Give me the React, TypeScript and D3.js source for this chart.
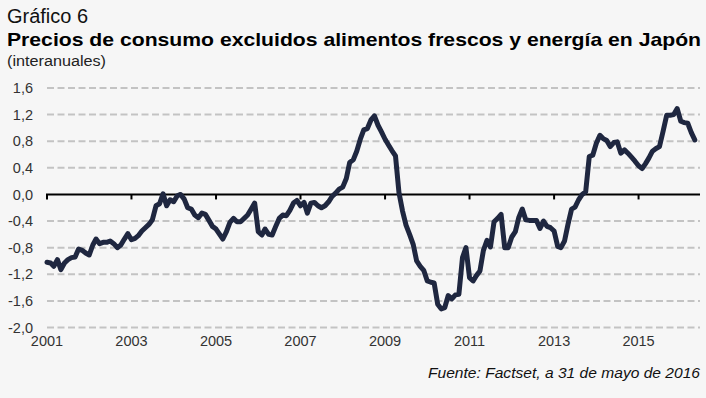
import React from 'react';
import * as d3 from 'd3';

// interanual, mensual desde ene-2001
const values = [
    -1.02, -1.03, -1.08, -0.98, -1.13, -1.03, -0.98, -0.95, -0.94, -0.82, -0.84, -0.88,
    -0.91, -0.76, -0.67, -0.74, -0.72, -0.72, -0.70, -0.74, -0.80, -0.76, -0.67, -0.59,
    -0.68, -0.66, -0.62, -0.55, -0.50, -0.45, -0.38, -0.17, -0.14, 0.01, -0.17, -0.08,
    -0.11, -0.02, 0.00, -0.07, -0.20, -0.22, -0.31, -0.35, -0.28, -0.30, -0.39, -0.48,
    -0.52, -0.60, -0.67, -0.56, -0.42, -0.36, -0.41, -0.41, -0.36, -0.31, -0.22, -0.13,
    -0.56, -0.61, -0.52, -0.60, -0.61, -0.48, -0.36, -0.31, -0.32, -0.24, -0.13, -0.09,
    -0.17, -0.12, -0.28, -0.13, -0.12, -0.17, -0.20, -0.17, -0.11, -0.03, 0.02, 0.08,
    0.11, 0.24, 0.48, 0.52, 0.65, 0.83, 0.97, 0.99, 1.12, 1.18, 1.04, 0.94,
    0.83, 0.74, 0.66, 0.58, 0.03, -0.25, -0.46, -0.60, -0.75, -1.00, -1.08, -1.14,
    -1.30, -1.32, -1.33, -1.65, -1.72, -1.70, -1.52, -1.57, -1.51, -1.50, -0.95, -0.80,
    -1.25, -1.30, -1.22, -1.15, -0.84, -0.69, -0.79, -0.41, -0.36, -0.30, -0.80, -0.80,
    -0.64, -0.56, -0.35, -0.22, -0.38, -0.39, -0.39, -0.39, -0.51, -0.40, -0.48, -0.50,
    -0.55, -0.78, -0.80, -0.70, -0.45, -0.22, -0.19, -0.08, 0.00, 0.04, 0.57, 0.59,
    0.77, 0.89, 0.84, 0.81, 0.72, 0.78, 0.79, 0.62, 0.67, 0.62, 0.56, 0.50,
    0.43, 0.39, 0.46, 0.55, 0.65, 0.69, 0.72, 0.95, 1.19, 1.19, 1.20, 1.29,
    1.10, 1.08, 1.07, 0.93, 0.82
];
const yTicks = [1.6, 1.2, 0.8, 0.4, 0.0, -0.4, -0.8, -1.2, -1.6, -2.0];
const xTickYears = [2001, 2003, 2005, 2007, 2009, 2011, 2013, 2015];

const W = 706;
const H = 398;
const font = '"Liberation Sans", Arial, sans-serif';

const App = () => {
    const x = d3.scaleTime()
        .domain([new Date(2001, 0, 1), new Date(2016, 5, 15)])
        .range([47, 700]);
    const y = d3.scaleLinear()
        .domain([-2, 1.6])
        .range([327.5, 88]);

    const data = values.map((v, i) => ({date: new Date(2001, i, 1), v: v}));
    const line = d3.line()
        .x(d => x(d.date))
        .y(d => y(d.v));

    const fmt = v => d3.format('.1f')(v).replace('.', ',').replace('−', '-');

    return (
        <div style={{position: 'fixed', left: 0, top: 0}}>
            <svg width={W} height={H} style={{display: 'block'}}>
                <rect width={W} height={H} fill="#f6f6f6"/>
                <text x={7} y={23} fontFamily={font} fontSize={20} fill="#111"
                      textLength={81} lengthAdjust="spacingAndGlyphs">Gráfico 6</text>
                <text x={7} y={46} fontFamily={font} fontSize={18.5} fontWeight="bold" fill="#000"
                      textLength={694} lengthAdjust="spacingAndGlyphs">
                    Precios de consumo excluidos alimentos frescos y energía en Japón
                </text>
                <text x={7} y={66} fontFamily={font} fontSize={14} fill="#222"
                      textLength={99} lengthAdjust="spacingAndGlyphs">(interanuales)</text>

                {yTicks.map(t => (
                    <g key={t}>
                        {t !== 0 && (
                            <line x1={47} x2={700} y1={y(t)} y2={y(t)}
                                  stroke="#c3c3c3" strokeWidth={2} strokeDasharray="7,3.5"/>
                        )}
                        <text x={33} y={y(t)} dy="0.35em" textAnchor="end"
                              fontFamily={font} fontSize={14.5} fill="#333">{fmt(t)}</text>
                    </g>
                ))}

                <line x1={46} x2={700} y1={y(0)} y2={y(0)} stroke="#000" strokeWidth={2}/>
                {xTickYears.map(yr => (
                    <g key={yr}>
                        <line x1={x(new Date(yr, 0, 1))} x2={x(new Date(yr, 0, 1))}
                              y1={y(0)} y2={y(0) + 5} stroke="#000" strokeWidth={2}/>
                        <text x={x(new Date(yr, 0, 1))} y={346} textAnchor="middle"
                              fontFamily={font} fontSize={14.5} fill="#333">{yr}</text>
                    </g>
                ))}

                <path d={line(data)} fill="none" stroke="#1f2740" strokeWidth={5}
                      strokeLinejoin="round" strokeLinecap="round"/>

                <text x={700} y={378} textAnchor="end" fontFamily={font} fontSize={15.5}
                      fontStyle="italic" fill="#111"
                      textLength={272} lengthAdjust="spacingAndGlyphs">Fuente: Factset, a 31 de mayo de 2016</text>
            </svg>
        </div>
    );
};

export default App;
